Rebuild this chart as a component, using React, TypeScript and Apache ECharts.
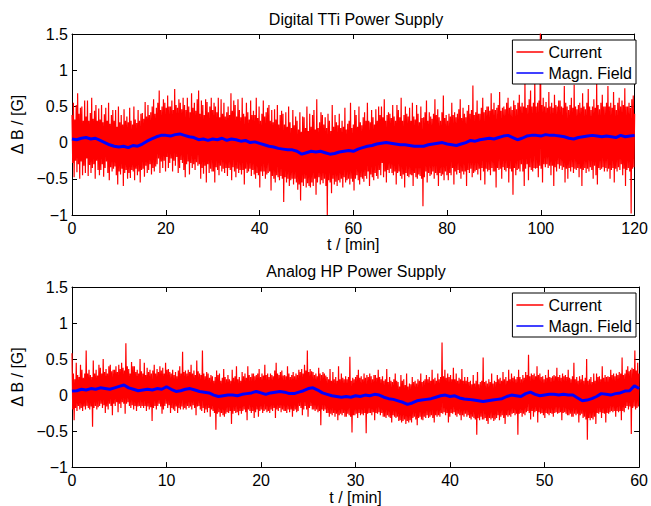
import React, { useEffect, useRef } from 'react';
import * as echarts from 'echarts';

// Current traces are stored as per-bin extremes (max at bin start, min half a bin later),
// the usual min/max reduction for a densely sampled signal.
const TOP_BIN = 0.3; // minutes per bin, Digital TTi
const BOTTOM_BIN = 0.15; // minutes per bin, Analog HP
const TOP_FIELD_STEP = 1;
const BOTTOM_FIELD_STEP = 0.5;

const titles = ['Digital TTi Power Supply', 'Analog HP Power Supply'];
const seriesNames = ['Current', 'Magn. Field'];
const xMax = [120, 60];
const xInterval = [20, 10];
const yMin = -1;
const yMax = 1.5;
const yInterval = 0.5;

// Digital TTi: current, bin maxima
const topCurrentMax = [
  0.38,0.55,0.32,0.52,0.68,0.4,0.48,0.5,0.3,0.58,
  0.36,0.58,0.3,0.41,0.62,0.33,0.44,0.52,0.3,0.47,
  0.32,0.52,0.28,0.39,0.48,0.3,0.55,0.26,0.38,0.45,
  0.3,0.45,0.22,0.5,0.28,0.38,0.25,0.46,0.3,0.36,
  0.28,0.48,0.3,0.25,0.5,0.32,0.27,0.45,0.3,0.4,
  0.41,0.33,0.56,0.36,0.52,0.38,0.42,0.5,0.6,0.4,
  0.48,0.55,0.72,0.45,0.5,0.6,0.55,0.48,0.65,0.5,
  0.5,0.58,0.45,0.74,0.52,0.48,0.6,0.55,0.46,0.62,
  0.52,0.45,0.62,0.5,0.42,0.68,0.48,0.55,0.44,0.6,
  0.72,0.4,0.58,0.52,0.38,0.6,0.56,0.42,0.5,0.62,
  0.45,0.55,0.5,0.42,0.62,0.35,0.6,0.4,0.55,0.36,
  0.42,0.5,0.38,0.68,0.44,0.58,0.52,0.36,0.6,0.45,
  0.35,0.62,0.4,0.36,0.55,0.42,0.32,0.58,0.38,0.44,
  0.38,0.62,0.34,0.5,0.3,0.4,0.58,0.36,0.42,0.48,
  0.52,0.3,0.45,0.28,0.46,0.32,0.52,0.25,0.38,0.44,
  0.4,0.25,0.42,0.22,0.5,0.28,0.2,0.45,0.24,0.36,
  0.3,0.18,0.42,0.15,0.36,0.35,0.2,0.5,0.16,0.4,
  0.22,0.38,0.45,0.18,0.6,0.2,0.28,0.42,0.38,0.25,
  0.35,0.2,0.4,0.3,0.16,0.52,0.22,0.38,0.28,0.24,
  0.4,0.2,0.3,0.22,0.48,0.18,0.26,0.3,0.55,0.2,
  0.25,0.45,0.38,0.22,0.5,0.28,0.24,0.35,0.42,0.3,
  0.55,0.3,0.28,0.45,0.35,0.25,0.46,0.3,0.5,0.38,
  0.5,0.35,0.6,0.3,0.38,0.42,0.4,0.34,0.52,0.36,
  0.3,0.52,0.45,0.35,0.62,0.3,0.38,0.5,0.4,0.36,
  0.48,0.3,0.55,0.36,0.32,0.52,0.4,0.28,0.5,0.34,
  0.35,0.42,0.58,0.3,0.42,0.36,0.33,0.4,0.6,0.38,
  0.46,0.35,0.3,0.42,0.65,0.34,0.38,0.3,0.4,0.36,
  0.55,0.38,0.42,0.35,0.4,0.46,0.6,0.34,0.48,0.4,
  0.35,0.44,0.52,0.4,0.45,0.79,0.38,0.42,0.58,0.4,
  0.4,0.48,0.62,0.42,0.45,0.5,0.5,0.44,0.68,0.46,
  0.55,0.45,0.48,0.52,0.7,0.44,0.48,0.5,0.46,0.55,
  0.62,0.48,0.5,0.45,0.58,0.52,0.46,0.55,0.66,0.5,
  0.55,0.5,0.85,0.48,0.52,0.6,0.72,0.5,0.55,0.9,
  0.5,0.55,0.58,1.62,0.52,0.62,0.5,0.56,0.48,0.7,
  0.5,0.55,0.48,0.66,0.52,0.5,0.58,0.58,0.5,0.48,
  0.78,0.55,0.5,0.45,0.52,0.62,0.48,0.8,0.5,0.46,
  0.52,0.55,0.48,0.68,0.5,0.46,0.55,0.74,0.5,0.45,
  0.5,0.6,0.48,0.85,0.52,0.46,0.55,0.66,0.5,0.5,
  0.55,0.78,0.5,0.55,0.48,0.7,0.52,0.45,0.55,0.62,
  0.5,0.58,0.52,0.75,0.5,0.5,0.55,0.48,0.6,0.65,
  0.4,
];

// Digital TTi: current, bin minima
const topCurrentMin = [
  -0.28,-0.48,-0.25,-0.41,-0.3,-0.5,-0.26,-0.45,-0.32,-0.42,
  -0.22,-0.46,-0.31,-0.42,-0.35,-0.3,-0.5,-0.25,-0.38,-0.45,
  -0.38,-0.3,-0.47,-0.35,-0.26,-0.42,-0.52,-0.34,-0.4,-0.36,
  -0.33,-0.45,-0.58,-0.4,-0.44,-0.36,-0.6,-0.42,-0.38,-0.5,
  -0.42,-0.49,-0.38,-0.4,-0.52,-0.36,-0.45,-0.4,-0.55,-0.38,
  -0.36,-0.47,-0.32,-0.42,-0.38,-0.3,-0.44,-0.35,-0.4,-0.33,
  -0.3,-0.22,-0.42,-0.26,-0.35,-0.25,-0.4,-0.2,-0.35,-0.28,
  -0.22,-0.4,-0.25,-0.32,-0.2,-0.42,-0.35,-0.24,-0.28,-0.38,
  -0.48,-0.3,-0.26,-0.44,-0.28,-0.35,-0.3,-0.38,-0.27,-0.32,
  -0.3,-0.5,-0.35,-0.43,-0.32,-0.55,-0.3,-0.42,-0.36,-0.4,
  -0.4,-0.55,-0.34,-0.38,-0.45,-0.32,-0.4,-0.36,-0.42,-0.35,
  -0.46,-0.35,-0.38,-0.52,-0.34,-0.4,-0.48,-0.36,-0.42,-0.38,
  -0.44,-0.38,-0.58,-0.36,-0.42,-0.4,-0.36,-0.46,-0.38,-0.44,
  -0.5,-0.42,-0.45,-0.62,-0.4,-0.46,-0.4,-0.5,-0.44,-0.42,
  -0.4,-0.66,-0.46,-0.5,-0.55,-0.45,-0.48,-0.52,-0.46,-0.5,
  -0.82,-0.48,-0.55,-0.5,-0.6,-0.52,-0.5,-0.58,-0.5,-0.55,
  -0.65,-0.58,-0.8,-0.55,-0.6,-0.5,-0.62,-0.56,-0.6,-0.62,
  -0.55,-0.6,-0.5,-0.72,-0.55,-0.48,-0.58,-0.52,-0.56,-0.5,
  -0.6,-1.0,-0.52,-0.55,-0.7,-0.5,-0.58,-0.54,-0.6,-0.52,
  -0.55,-0.5,-0.62,-0.48,-0.55,-0.52,-0.5,-0.58,-0.5,-0.54,
  -0.66,-0.5,-0.45,-0.52,-0.58,-0.48,-0.5,-0.54,-0.46,-0.5,
  -0.4,-0.6,-0.44,-0.48,-0.52,-0.42,-0.46,-0.5,-0.38,-0.45,
  -0.28,-0.48,-0.4,-0.55,-0.38,-0.42,-0.36,-0.42,-0.45,-0.4,
  -0.58,-0.42,-0.4,-0.46,-0.5,-0.44,-0.62,-0.42,-0.46,-0.48,
  -0.44,-0.45,-0.6,-0.42,-0.48,-0.5,-0.44,-0.46,-0.5,-0.88,
  -0.48,-0.4,-0.55,-0.42,-0.46,-0.44,-0.4,-0.5,-0.42,-0.45,
  -0.6,-0.42,-0.46,-0.44,-0.52,-0.4,-0.45,-0.52,-0.42,-0.45,
  -0.35,-0.58,-0.4,-0.44,-0.38,-0.42,-0.5,-0.4,-0.44,-0.4,
  -0.6,-0.38,-0.42,-0.36,-0.48,-0.42,-0.4,-0.38,-0.44,-0.36,
  -0.52,-0.35,-0.4,-0.58,-0.36,-0.4,-0.38,-0.45,-0.35,-0.4,
  -0.4,-0.62,-0.35,-0.38,-0.36,-0.5,-0.34,-0.38,-0.4,-0.35,
  -0.55,-0.36,-0.4,-0.72,-0.35,-0.45,-0.38,-0.36,-0.4,-0.3,
  -0.4,-0.6,-0.36,-0.3,-0.52,-0.34,-0.38,-0.4,-0.35,-0.36,
  -0.35,-0.48,-0.32,-0.36,-0.55,-0.3,-0.34,-0.3,-0.35,-0.32,
  -0.45,-0.32,-0.6,-0.34,-0.4,-0.3,-0.36,-0.32,-0.38,-0.34,
  -0.55,-0.36,-0.5,-0.35,-0.4,-0.34,-0.42,-0.36,-0.38,-0.35,
  -0.48,-0.36,-0.6,-0.38,-0.35,-0.42,-0.36,-0.4,-0.34,-0.38,
  -0.5,-0.32,-0.45,-0.58,-0.35,-0.38,-0.36,-0.34,-0.4,-0.35,
  -0.4,-0.36,-0.5,-0.38,-0.35,-0.55,-0.36,-0.4,-0.34,-0.38,
  -0.3,-0.45,-0.36,-0.6,-0.38,-0.35,-0.4,-0.98,-0.36,-0.34,
];

// Digital TTi: magnetic field (blue)
const topField = [
  0.05,0.04,0.06,0.07,0.05,0.06,0.03,0.0,-0.03,-0.05,
  -0.06,-0.05,-0.07,-0.04,-0.05,-0.02,0.02,0.05,0.08,0.1,
  0.1,0.09,0.11,0.12,0.1,0.08,0.07,0.04,0.05,0.03,
  0.05,0.04,0.06,0.03,0.05,0.04,0.02,0.03,0.0,0.01,
  -0.01,-0.03,-0.05,-0.06,-0.08,-0.09,-0.1,-0.1,-0.12,-0.16,
  -0.14,-0.12,-0.13,-0.12,-0.14,-0.16,-0.15,-0.13,-0.12,-0.11,
  -0.12,-0.09,-0.07,-0.05,-0.04,-0.02,-0.01,0.0,-0.01,-0.02,
  -0.03,-0.03,-0.04,-0.05,-0.05,-0.05,-0.03,-0.02,-0.01,0.0,
  -0.02,-0.03,-0.04,-0.02,0.0,0.03,0.02,0.04,0.05,0.06,
  0.05,0.07,0.09,0.1,0.07,0.04,0.06,0.09,0.1,0.1,
  0.09,0.11,0.1,0.1,0.09,0.08,0.06,0.05,0.07,0.08,
  0.09,0.1,0.09,0.08,0.09,0.08,0.07,0.1,0.08,0.09,
  0.1,
];

// Analog HP: current, bin maxima
const bottomCurrentMax = [
  0.58,0.3,0.22,0.45,0.28,0.25,0.42,0.35,0.24,0.3,
  0.62,0.3,0.35,0.28,0.25,0.48,0.3,0.35,0.27,0.42,
  0.38,0.3,0.5,0.32,0.36,0.3,0.4,0.42,0.33,0.35,
  0.35,0.4,0.32,0.42,0.36,0.45,0.38,0.34,0.72,0.4,
  0.36,0.3,0.46,0.4,0.4,0.32,0.35,0.3,0.5,0.33,
  0.3,0.45,0.28,0.38,0.32,0.35,0.3,0.34,0.42,0.3,
  0.36,0.32,0.4,0.34,0.38,0.3,0.45,0.35,0.36,0.32,
  0.3,0.35,0.28,0.32,0.26,0.34,0.4,0.3,0.6,0.32,
  0.34,0.3,0.35,0.32,0.42,0.3,0.34,0.28,0.48,0.33,
  0.3,0.28,0.62,0.3,0.26,0.32,0.3,0.24,0.28,0.26,
  0.2,0.25,0.34,0.28,0.3,0.2,0.24,0.36,0.25,0.22,
  0.28,0.22,0.2,0.35,0.24,0.26,0.4,0.22,0.25,0.2,
  0.32,0.26,0.3,0.24,0.4,0.28,0.25,0.3,0.3,0.26,
  0.28,0.3,0.36,0.25,0.3,0.27,0.42,0.28,0.3,0.25,
  0.3,0.28,0.26,0.34,0.45,0.3,0.28,0.32,0.34,0.27,
  0.28,0.26,0.4,0.3,0.25,0.28,0.32,0.26,0.3,0.28,
  0.35,0.32,0.36,0.3,0.42,0.34,0.62,0.32,0.36,0.33,
  0.32,0.28,0.3,0.26,0.38,0.3,0.28,0.32,0.3,0.27,
  0.25,0.22,0.36,0.2,0.32,0.22,0.25,0.2,0.4,0.22,
  0.3,0.24,0.22,0.26,0.22,0.25,0.53,0.2,0.24,0.22,
  0.25,0.28,0.35,0.24,0.26,0.22,0.3,0.24,0.28,0.25,
  0.3,0.26,0.22,0.28,0.28,0.24,0.35,0.25,0.22,0.26,
  0.2,0.22,0.36,0.18,0.25,0.2,0.18,0.22,0.3,0.2,
  0.18,0.12,0.28,0.2,0.22,0.14,0.3,0.12,0.16,0.15,
  0.25,0.18,0.2,0.16,0.22,0.2,0.3,0.18,0.2,0.22,
  0.28,0.22,0.25,0.2,0.35,0.22,0.24,0.2,0.3,0.22,
  0.25,0.73,0.26,0.35,0.24,0.3,0.25,0.28,0.22,0.38,
  0.22,0.3,0.2,0.24,0.22,0.36,0.2,0.25,0.2,0.25,
  0.18,0.2,0.15,0.28,0.16,0.2,0.32,0.15,0.18,0.2,
  0.52,0.18,0.2,0.16,0.22,0.18,0.3,0.16,0.2,0.18,
  0.28,0.22,0.24,0.2,0.32,0.22,0.25,0.2,0.35,0.22,
  0.3,0.24,0.26,0.22,0.25,0.35,0.25,0.22,0.28,0.24,
  0.32,0.28,0.56,0.26,0.3,0.28,0.3,0.26,0.4,0.28,
  0.3,0.25,0.26,0.22,0.28,0.24,0.35,0.25,0.24,0.26,
  0.28,0.26,0.38,0.25,0.28,0.24,0.3,0.26,0.28,0.25,
  0.35,0.24,0.22,0.26,0.45,0.22,0.25,0.2,0.26,0.22,
  0.28,0.2,0.24,0.5,0.2,0.22,0.25,0.18,0.3,0.2,
  0.3,0.25,0.26,0.22,0.4,0.24,0.28,0.25,0.26,0.25,
  0.35,0.28,0.3,0.26,0.3,0.28,0.32,0.3,0.52,0.28,
  0.3,0.35,0.4,0.33,0.35,0.38,0.36,0.62,0.34,0.45,
  0.3,
];

// Analog HP: current, bin minima
const bottomCurrentMin = [
  -0.2,-0.35,-0.18,-0.22,-0.15,-0.2,-0.18,-0.22,-0.16,-0.2,
  -0.15,-0.18,-0.2,-0.16,-0.44,-0.18,-0.15,-0.2,-0.17,-0.15,
  -0.12,-0.18,-0.14,-0.25,-0.16,-0.2,-0.12,-0.15,-0.28,-0.12,
  -0.15,-0.1,-0.24,-0.12,-0.18,-0.1,-0.12,-0.26,-0.12,-0.1,
  -0.15,-0.18,-0.14,-0.2,-0.15,-0.22,-0.16,-0.15,-0.18,-0.15,
  -0.18,-0.15,-0.22,-0.16,-0.2,-0.17,-0.36,-0.18,-0.15,-0.2,
  -0.15,-0.12,-0.16,-0.26,-0.2,-0.15,-0.12,-0.18,-0.14,-0.25,
  -0.18,-0.2,-0.22,-0.16,-0.25,-0.18,-0.2,-0.16,-0.2,-0.18,
  -0.2,-0.15,-0.18,-0.16,-0.2,-0.14,-0.18,-0.28,-0.16,-0.15,
  -0.2,-0.22,-0.18,-0.25,-0.2,-0.24,-0.18,-0.3,-0.2,-0.22,
  -0.25,-0.48,-0.26,-0.24,-0.3,-0.25,-0.28,-0.3,-0.26,-0.24,
  -0.25,-0.22,-0.4,-0.26,-0.22,-0.25,-0.24,-0.28,-0.22,-0.26,
  -0.22,-0.2,-0.24,-0.35,-0.2,-0.22,-0.25,-0.22,-0.32,-0.24,
  -0.2,-0.3,-0.22,-0.2,-0.25,-0.22,-0.2,-0.24,-0.22,-0.25,
  -0.2,-0.22,-0.18,-0.32,-0.2,-0.22,-0.18,-0.24,-0.2,-0.22,
  -0.22,-0.25,-0.2,-0.24,-0.2,-0.3,-0.22,-0.2,-0.24,-0.22,
  -0.15,-0.18,-0.28,-0.2,-0.15,-0.2,-0.3,-0.18,-0.15,-0.2,
  -0.2,-0.22,-0.2,-0.24,-0.22,-0.42,-0.2,-0.22,-0.2,-0.25,
  -0.25,-0.3,-0.26,-0.28,-0.25,-0.3,-0.26,-0.35,-0.28,-0.26,
  -0.28,-0.25,-0.3,-0.3,-0.26,-0.28,-0.3,-0.52,-0.28,-0.28,
  -0.26,-0.32,-0.25,-0.28,-0.26,-0.28,-0.25,-0.53,-0.26,-0.25,
  -0.25,-0.28,-0.24,-0.35,-0.25,-0.26,-0.24,-0.28,-0.25,-0.3,
  -0.3,-0.32,-0.28,-0.3,-0.32,-0.38,-0.28,-0.3,-0.32,-0.3,
  -0.36,-0.35,-0.38,-0.36,-0.34,-0.4,-0.36,-0.38,-0.35,-0.38,
  -0.32,-0.3,-0.34,-0.42,-0.32,-0.3,-0.34,-0.35,-0.3,-0.32,
  -0.28,-0.32,-0.3,-0.28,-0.32,-0.38,-0.28,-0.3,-0.28,-0.3,
  -0.25,-0.26,-0.24,-0.28,-0.25,-0.38,-0.3,-0.25,-0.26,-0.24,
  -0.28,-0.3,-0.26,-0.28,-0.35,-0.28,-0.3,-0.26,-0.3,-0.28,
  -0.32,-0.34,-0.3,-0.32,-0.34,-0.55,-0.32,-0.35,-0.3,-0.34,
  -0.34,-0.32,-0.36,-0.4,-0.32,-0.34,-0.32,-0.36,-0.34,-0.32,
  -0.28,-0.35,-0.3,-0.28,-0.32,-0.4,-0.28,-0.3,-0.28,-0.3,
  -0.26,-0.25,-0.28,-0.26,-0.55,-0.26,-0.25,-0.3,-0.26,-0.28,
  -0.24,-0.22,-0.25,-0.34,-0.22,-0.3,-0.24,-0.22,-0.38,-0.24,
  -0.26,-0.25,-0.28,-0.32,-0.25,-0.26,-0.28,-0.25,-0.26,-0.3,
  -0.25,-0.24,-0.26,-0.25,-0.24,-0.35,-0.25,-0.24,-0.26,-0.28,
  -0.28,-0.26,-0.3,-0.3,-0.26,-0.28,-0.26,-0.38,-0.28,-0.26,
  -0.32,-0.3,-0.34,-0.62,-0.32,-0.35,-0.32,-0.34,-0.3,-0.4,
  -0.25,-0.26,-0.24,-0.32,-0.25,-0.26,-0.38,-0.25,-0.26,-0.24,
  -0.22,-0.24,-0.22,-0.3,-0.22,-0.24,-0.22,-0.35,-0.22,-0.24,
  -0.18,-0.15,-0.2,-0.16,-0.54,-0.18,-0.16,-0.2,-0.18,-0.16,
];

// Analog HP: magnetic field (blue)
const bottomField = [
  0.055,0.06,0.08,0.07,0.09,0.08,0.1,0.09,0.08,0.1,
  0.12,0.14,0.1,0.08,0.06,0.07,0.08,0.07,0.09,0.08,
  0.115,0.08,0.05,0.06,0.08,0.09,0.07,0.05,0.04,0.03,
  0.0,-0.02,-0.01,0.0,0.0,-0.01,0.01,0.02,0.03,0.05,
  0.03,0.01,0.03,0.04,0.05,0.04,0.02,0.02,0.04,0.06,
  0.09,0.1,0.07,0.03,0.01,-0.01,-0.02,-0.03,-0.02,-0.03,
  -0.01,-0.02,0.0,-0.01,0.01,0.0,-0.03,-0.05,-0.06,-0.08,
  -0.1,-0.13,-0.11,-0.08,-0.07,-0.06,-0.05,-0.03,-0.01,0.0,
  -0.02,-0.01,-0.04,-0.055,-0.06,-0.07,-0.08,-0.09,-0.08,-0.07,
  -0.06,-0.05,-0.02,0.0,-0.01,-0.02,0.02,0.04,0.01,-0.01,
  0.0,0.01,0.01,0.0,0.01,0.0,0.0,-0.04,-0.08,-0.07,
  -0.05,-0.02,0.02,0.01,0.0,0.02,0.03,0.055,0.06,0.13,
  0.09,
];

const FONT = "'Liberation Sans', Arial, Helvetica, sans-serif";
const FS = 16;

const r4 = (v: number) => Math.round(v * 10000) / 10000;

const toPairs = (arr: number[], step: number) => arr.map((v, i) => [r4(i * step), v]);

// bin maximum at the start of each bin, bin minimum half a bin later
const binsToPoints = (maxArr: number[], minArr: number[], bin: number) => {
  const out: number[][] = [];
  maxArr.forEach((v, i) => {
    out.push([r4(i * bin), v]);
    if (i < minArr.length) out.push([r4((i + 0.5) * bin), minArr[i]]);
  });
  return out;
};

const axisLineStyle = { show: true, onZero: false, lineStyle: { color: '#000', width: 1 } };
const tickStyle = { show: true, inside: true, length: 5, lineStyle: { color: '#000', width: 1 } };
const textStyle = { color: '#000', fontSize: FS, fontFamily: FONT };

function makeX(grid: number, position: 'top' | 'bottom') {
  const main = position === 'bottom';
  return {
    type: 'value',
    gridIndex: grid,
    min: 0,
    max: xMax[grid],
    interval: xInterval[grid],
    position,
    axisLine: axisLineStyle,
    axisTick: tickStyle,
    splitLine: { show: false },
    axisLabel: { show: main, ...textStyle, margin: 5 },
    name: main ? 't / [min]' : '',
    nameLocation: 'middle',
    nameGap: 20,
    nameTextStyle: textStyle,
  };
}

function makeY(grid: number, position: 'left' | 'right') {
  const main = position === 'left';
  return {
    type: 'value',
    gridIndex: grid,
    min: yMin,
    max: yMax,
    interval: yInterval,
    position,
    axisLine: axisLineStyle,
    axisTick: tickStyle,
    splitLine: { show: false },
    axisLabel: {
      show: main,
      ...textStyle,
      margin: 4,
      formatter: (v: number) => String(v).replace('-', '\u2212'),
    },
    name: main ? '\u0394 B / [G]' : '',
    nameLocation: 'middle',
    nameGap: 28,
    nameRotate: 90,
    nameTextStyle: textStyle,
  };
}

export default function App() {
  const ref = useRef<HTMLDivElement>(null);
  useEffect(() => {
    if (!ref.current) return;
    const chart = echarts.init(ref.current, undefined, { renderer: 'svg' });
    const gridTops = [34, 287];
    const titleY = [19, 271];
    const legendTop = [40, 293];
    const red = '#ff0000';
    const blue = '#0000ff';
    const option = {
      animation: false,
      backgroundColor: '#fff',
      grid: gridTops.map((t) => ({ left: 72, right: 11, top: t, height: 181, containLabel: false })),
      xAxis: [makeX(0, 'bottom'), makeX(0, 'top'), makeX(1, 'bottom'), makeX(1, 'top')],
      yAxis: [makeY(0, 'left'), makeY(0, 'right'), makeY(1, 'left'), makeY(1, 'right')],
      legend: legendTop.map((t) => ({
        data: seriesNames,
        orient: 'vertical',
        right: 15,
        top: t,
        icon: 'rect',
        itemWidth: 27,
        itemHeight: 1.5,
        itemGap: 5,
        backgroundColor: '#fff',
        borderColor: '#000',
        borderWidth: 1,
        borderRadius: 0,
        padding: [4, 4, 3, 4],
        selectedMode: false,
        textStyle: textStyle,
      })),
      graphic: titles.map((text, i) => ({
        type: 'text',
        x: 356,
        y: titleY[i],
        style: {
          text,
          fill: '#000',
          font: `${FS}px ${FONT}`,
          align: 'center',
          verticalAlign: 'middle',
          textAlign: 'center',
          textVerticalAlign: 'middle',
        },
      })),
      series: [
        {
          name: seriesNames[0], type: 'line', xAxisIndex: 0, yAxisIndex: 0,
          data: binsToPoints(topCurrentMax, topCurrentMin, TOP_BIN), symbol: 'none',
          lineStyle: { color: red, width: 1.2 }, itemStyle: { color: red },
        },
        {
          name: seriesNames[1], type: 'line', xAxisIndex: 0, yAxisIndex: 0,
          data: toPairs(topField, TOP_FIELD_STEP), symbol: 'none',
          lineStyle: { color: blue, width: 3 }, itemStyle: { color: blue },
        },
        {
          name: seriesNames[0], type: 'line', xAxisIndex: 2, yAxisIndex: 2,
          data: binsToPoints(bottomCurrentMax, bottomCurrentMin, BOTTOM_BIN), symbol: 'none',
          lineStyle: { color: red, width: 1.2 }, itemStyle: { color: red },
        },
        {
          name: seriesNames[1], type: 'line', xAxisIndex: 2, yAxisIndex: 2,
          data: toPairs(bottomField, BOTTOM_FIELD_STEP), symbol: 'none',
          lineStyle: { color: blue, width: 3 }, itemStyle: { color: blue },
        },
      ],
    };
    chart.setOption(option as any);
    return () => chart.dispose();
  }, []);
  return (
    <div
      ref={ref}
      style={{ position: 'fixed', left: 0, top: 0, width: '651px', height: '506px', background: '#fff' }}
    />
  );
}
